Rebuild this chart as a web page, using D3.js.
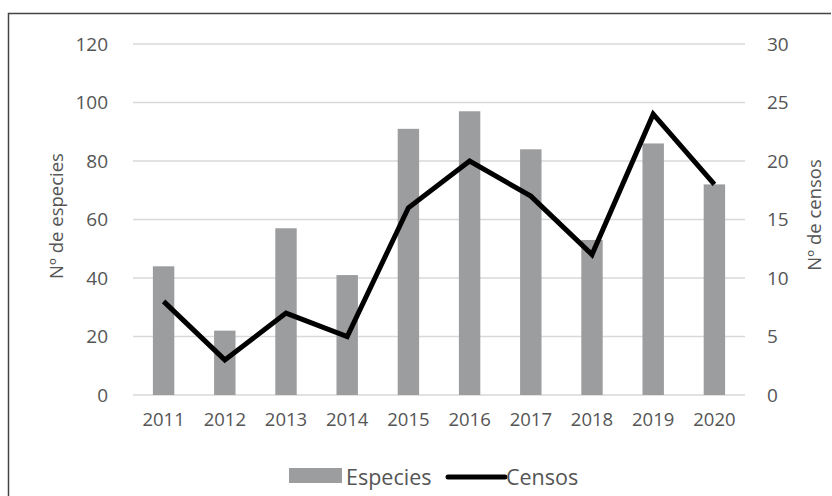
<!DOCTYPE html>
<html>
<head>
<meta charset="utf-8">
<script src="https://cdn.jsdelivr.net/npm/d3@7"></script>
<style>
  body { margin: 0; background: #fff; }
  text { font-family: "Open Sans", sans-serif; fill: #555; }
</style>
</head>
<body>
<div id="chart"></div>
<script>
// data
var years = ["2011", "2012", "2013", "2014", "2015", "2016", "2017", "2018", "2019", "2020"];
var especies = [44, 22, 57, 41, 91, 97, 84, 53, 86, 72];
var censos = [8, 3, 7, 5, 16, 20, 17, 12, 24, 18];
var leftTicks = [0, 20, 40, 60, 80, 100, 120];
var rightTicks = [0, 5, 10, 15, 20, 25, 30];

var W = 832, H = 496;
var margin = {top: 44, right: 87, bottom: 101, left: 133},
    width = W - margin.left - margin.right,
    height = H - margin.top - margin.bottom;

var svg = d3.select("#chart")
  .append("svg")
    .attr("width", W)
    .attr("height", H);

// frame
svg.append("path")
  .attr("d", "M8.5," + H + "V13.5H831")
  .attr("fill", "none")
  .attr("stroke", "#444")
  .attr("stroke-width", 1.5);

var g = svg.append("g")
  .attr("transform", "translate(" + margin.left + "," + margin.top + ")");

var x = d3.scaleBand()
  .domain(years)
  .range([0, width])
  .paddingInner(0.65)
  .paddingOuter(0.325);

var y = d3.scaleLinear().domain([0, 120]).range([height, 0]);
var y2 = d3.scaleLinear().domain([0, 30]).range([height, 0]);

// gridlines
g.append("g")
  .selectAll("line")
  .data(leftTicks)
  .enter()
  .append("line")
    .attr("x1", 0)
    .attr("x2", width)
    .attr("y1", function(d) { return y(d); })
    .attr("y2", function(d) { return y(d); })
    .attr("stroke", "#d9d9d9")
    .attr("stroke-width", 1.5);

// left axis
var yAxis = g.append("g")
  .call(d3.axisLeft(y).tickValues(leftTicks).tickSize(0).tickPadding(25));
yAxis.select(".domain").remove();
yAxis.selectAll("text").style("font-size", "19px").attr("fill", "#555");

// right axis
var yAxis2 = g.append("g")
  .attr("transform", "translate(" + width + ",0)")
  .call(d3.axisRight(y2).tickValues(rightTicks).tickSize(0).tickPadding(22));
yAxis2.select(".domain").remove();
yAxis2.selectAll("text").style("font-size", "19px").attr("fill", "#555");

// x axis
var xAxis = g.append("g")
  .attr("transform", "translate(0," + height + ")")
  .call(d3.axisBottom(x).tickSize(0).tickPadding(18));
xAxis.select(".domain").remove();
xAxis.selectAll("text").style("font-size", "18.5px").attr("fill", "#555");

// bars
g.append("g")
  .selectAll("rect")
  .data(especies)
  .enter()
  .append("rect")
    .attr("x", function(d, i) { return x(years[i]); })
    .attr("y", function(d) { return y(d); })
    .attr("width", x.bandwidth())
    .attr("height", function(d) { return height - y(d); })
    .attr("fill", "#9b9d9f");

// line
var line = d3.line()
  .x(function(d, i) { return x(years[i]) + x.bandwidth() / 2; })
  .y(function(d) { return y2(d); });

g.append("path")
  .datum(censos)
  .attr("d", line)
  .attr("fill", "none")
  .attr("stroke", "#000")
  .attr("stroke-width", 5);

// axis titles
svg.append("text")
  .attr("transform", "translate(55,216) rotate(-90)")
  .attr("text-anchor", "middle")
  .attr("dominant-baseline", "central")
  .style("font-size", "18.5px")
  .text("Nº de especies");

svg.append("text")
  .attr("transform", "translate(813,215) rotate(-90)")
  .attr("text-anchor", "middle")
  .attr("dominant-baseline", "central")
  .style("font-size", "18.5px")
  .text("Nº de censos");

// legend
var legend = svg.append("g");
legend.append("rect")
  .attr("x", 289).attr("y", 468)
  .attr("width", 53).attr("height", 15)
  .attr("fill", "#9b9d9f");
legend.append("text")
  .attr("x", 346).attr("y", 476)
  .attr("dominant-baseline", "central")
  .style("font-size", "21.5px")
  .text("Especies");
legend.append("line")
  .attr("x1", 448).attr("x2", 505)
  .attr("y1", 477).attr("y2", 477)
  .attr("stroke", "#000")
  .attr("stroke-width", 5)
  .attr("stroke-linecap", "round");
legend.append("text")
  .attr("x", 506).attr("y", 476)
  .attr("dominant-baseline", "central")
  .style("font-size", "21.5px")
  .text("Censos");
</script>
</body>
</html>
